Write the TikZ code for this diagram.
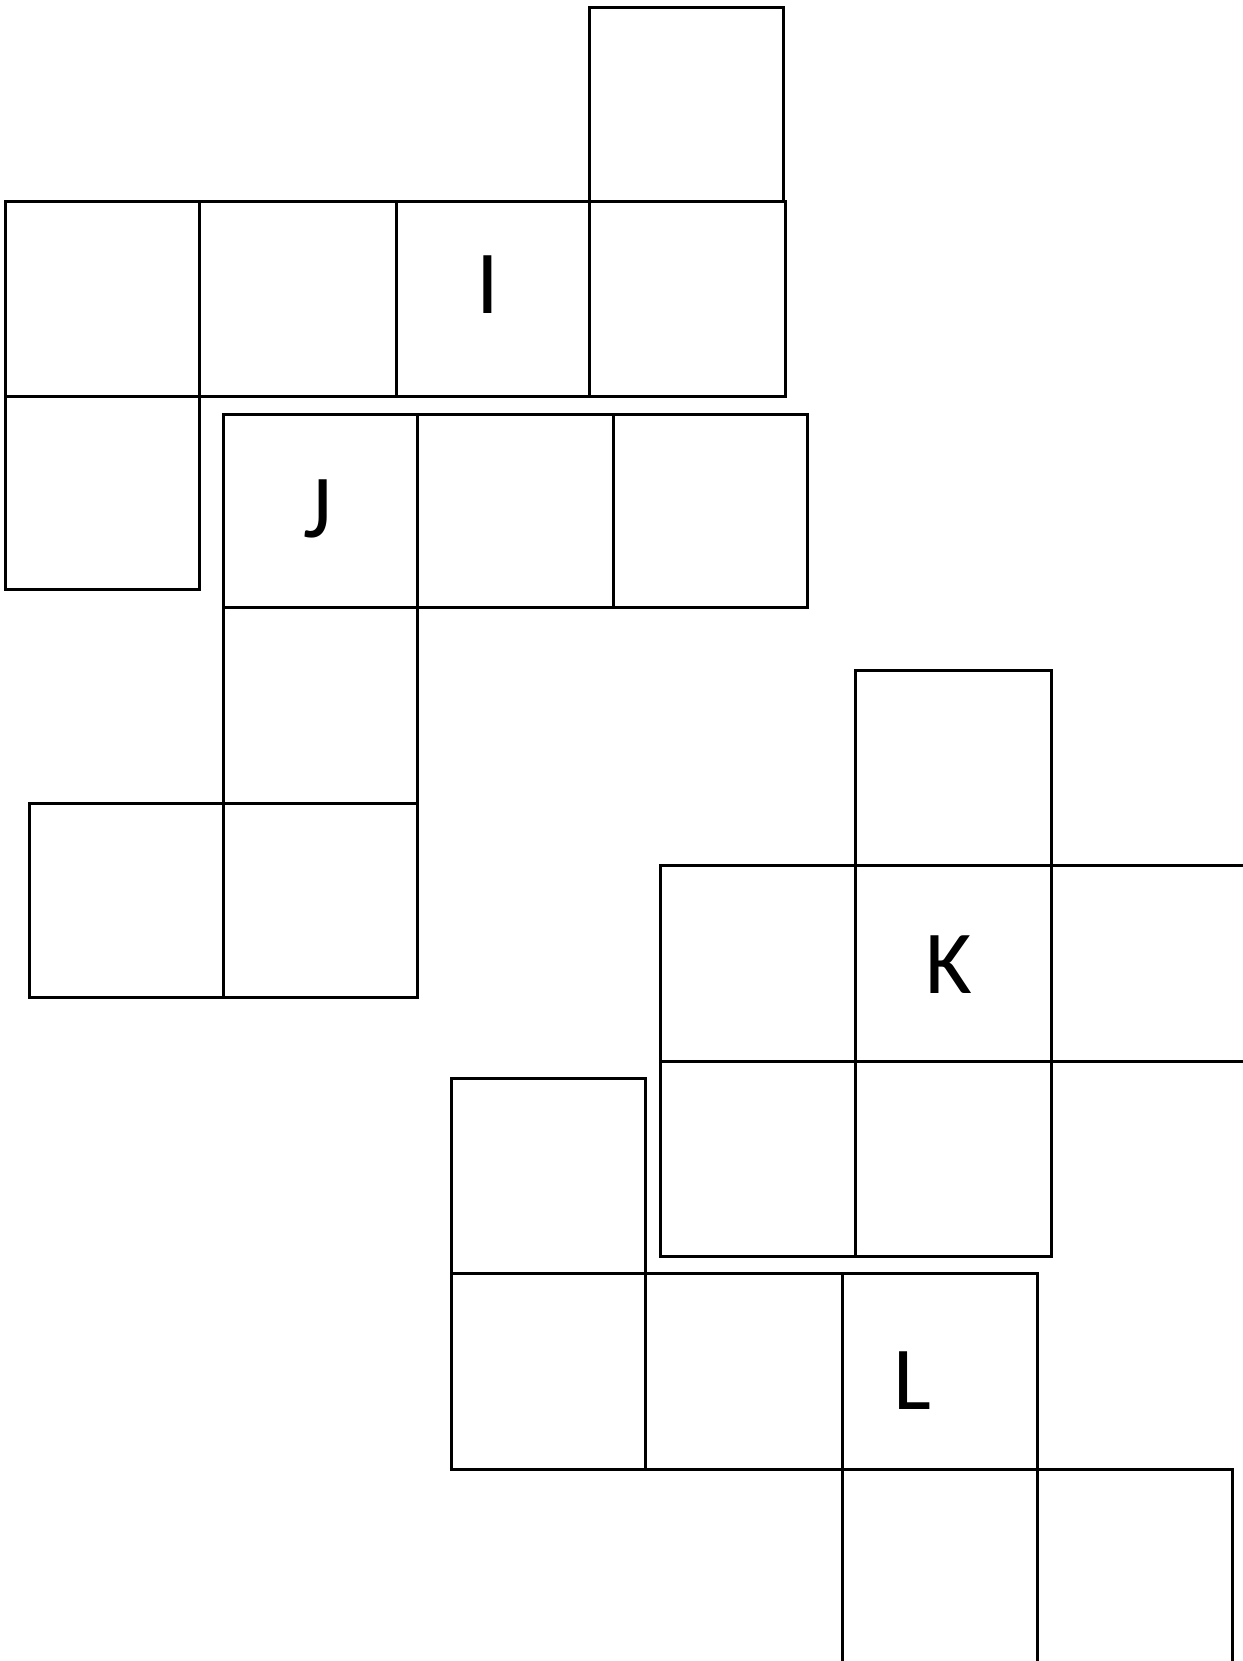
\documentclass[tikz,border=0pt]{standalone}
\usepackage{fontspec}
\setmainfont{Carlito}
\begin{document}
\begin{tikzpicture}[x=0.5pt,y=-0.5pt,line width=1.5pt]
  \useasboundingbox (0,0) rectangle (1243,1661);
  \clip (0,0) rectangle (1243,1661);
  % piece I
  \draw (589,7) rectangle (783,201);
  \draw (5,201) rectangle (199,396);
  \draw (199,201) rectangle (396,396);
  \draw (396,201) rectangle (589,396);
  \draw (589,201) rectangle (785,396);
  \draw (5,396) rectangle (199,589);
  % piece J
  \draw (223,414) rectangle (417,607);
  \draw (417,414) rectangle (613,607);
  \draw (613,414) rectangle (807,607);
  \draw (223,607) rectangle (417,803);
  \draw (29,803) rectangle (223,997);
  \draw (223,803) rectangle (417,997);
  % piece K
  \draw (855,670) rectangle (1051,865);
  \draw (660,865) rectangle (855,1061);
  \draw (855,865) rectangle (1051,1061);
  \draw (1051,865) rectangle (1252,1061);
  \draw (660,1061) rectangle (855,1256);
  \draw (855,1061) rectangle (1051,1256);
  % piece L
  \draw (451,1078) rectangle (645,1273);
  \draw (451,1273) rectangle (645,1469);
  \draw (645,1273) rectangle (842,1469);
  \draw (842,1273) rectangle (1037,1469);
  \draw (842,1469) rectangle (1037,1672);
  \draw (1037,1469) rectangle (1232,1672);
  % labels
  \begin{scope}[every node/.style={anchor=base,font=\fontsize{45}{54}\selectfont}]
    \node (labI) at (487.5,313) {I};
    \node (labJ) at (317.5,537) {J};
    \node (labK) at (949,993) {K};
    \node (labL) at (912,1409) {L};
  \end{scope}
\end{tikzpicture}
\end{document}
